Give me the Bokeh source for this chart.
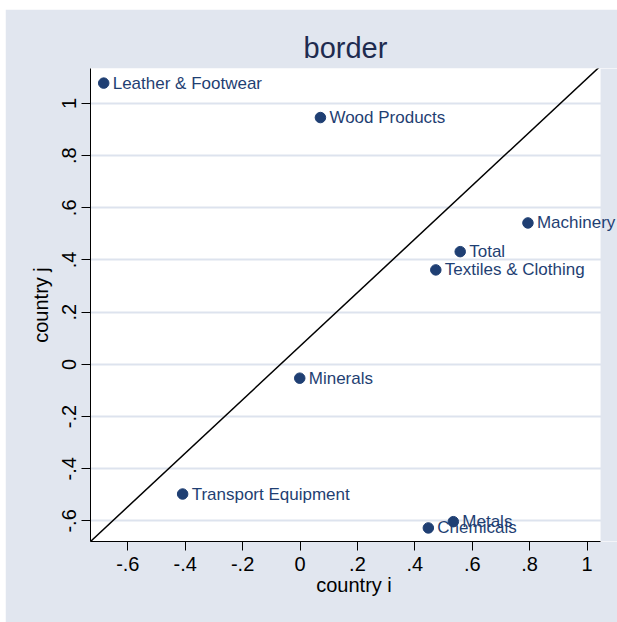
from bokeh.plotting import figure
from bokeh.models import (Range1d, FixedTicker, ColumnDataSource, Spacer, Label,
                          BoxAnnotation)
from bokeh.layouts import row, column
from bokeh.embed import file_html
from bokeh.resources import INLINE

# ---- data ----
categories = ["Leather & Footwear", "Wood Products", "Machinery", "Total",
              "Textiles & Clothing", "Minerals", "Transport Equipment",
              "Metals", "Chemicals"]
country_i = [-0.684, 0.071, 0.794, 0.558, 0.473, -0.001, -0.409, 0.534, 0.447]
country_j = [1.078, 0.946, 0.542, 0.432, 0.362, -0.053, -0.497, -0.603, -0.627]

diag_x = [-0.730, 1.049]
diag_y = [-0.679, 1.146]

tick_values = [-0.6, -0.4, -0.2, 0, 0.2, 0.4, 0.6, 0.8, 1]
tick_labels = ["-.6", "-.4", "-.2", "0", ".2", ".4", ".6", ".8", "1"]

# plot-region extent in x (the frame itself is widened so that labels may
# run past the plot region, as in the original)
x_lo, x_hi = -0.730, 1.047

BG = "#E1E6EF"
GRID = "#DDE3EE"
NAVY = "#1F3F73"
FONT = "Liberation Sans"

p = figure(width=612, height=613, output_backend="svg", toolbar_location=None,
           x_range=Range1d(x_lo, 1.106), y_range=Range1d(-0.679, 1.134),
           title="border")
p.min_border_left = 85
p.min_border_right = 0
p.min_border_top = 59
p.min_border_bottom = 81
p.background_fill_color = "white"
p.border_fill_color = BG
p.outline_line_color = None

# title centred over the plot region (frame is wider than the plot region)
p.title.align = "left"
p.title.offset = 213
p.title.text_font = FONT
p.title.text_font_style = "normal"
p.title.text_font_size = "29px"
p.title.text_color = "#1E2B4F"

overrides = {v: l for v, l in zip(tick_values, tick_labels)}
for ax in (p.xaxis[0], p.yaxis[0]):
    ax.ticker = FixedTicker(ticks=tick_values)
    ax.major_label_overrides = overrides
    ax.major_label_text_font = FONT
    ax.major_label_text_font_size = "20px"
    ax.major_label_text_color = "black"
    ax.axis_label_text_font = FONT
    ax.axis_label_text_font_size = "20px"
    ax.axis_label_text_font_style = "normal"
    ax.axis_label_text_color = "black"
    ax.axis_line_color = "black"
    ax.axis_line_width = 1
    ax.major_tick_line_color = "black"
    ax.major_tick_in = 0
    ax.major_tick_out = 9
    ax.minor_tick_line_color = None

p.xaxis.bounds = (x_lo, x_hi)
p.xaxis.axis_label = "country i"
p.yaxis.axis_label = "country j"
p.xaxis.major_label_standoff = 6
p.yaxis.major_label_standoff = 5
p.xaxis.axis_label_standoff = 0
p.yaxis.axis_label_standoff = 8
p.yaxis.major_label_orientation = "parallel"

p.xgrid.grid_line_color = None
p.ygrid.grid_line_color = GRID
p.ygrid.grid_line_width = 2
p.ygrid.ticker = FixedTicker(ticks=tick_values)

# background strip to the right of the plot region
p.add_layout(BoxAnnotation(left=x_hi, fill_color=BG, fill_alpha=1,
                           line_color=None, level="underlay"))

p.line(diag_x, diag_y, line_color="black", line_width=1.5)

src = ColumnDataSource(dict(x=country_i, y=country_j, name=categories))
p.scatter("x", "y", source=src, size=10.5, fill_color=NAVY, line_color=NAVY)
for xi, yj, name in zip(country_i, country_j, categories):
    p.add_layout(Label(x=xi, y=yj, text=name, x_offset=9,
                       text_baseline="middle", text_align="left",
                       text_font=FONT, text_font_size="17px",
                       text_color=NAVY))

layout = row(Spacer(width=5), column(Spacer(height=9), p))

open("out.html", "w").write(file_html(layout, INLINE))
